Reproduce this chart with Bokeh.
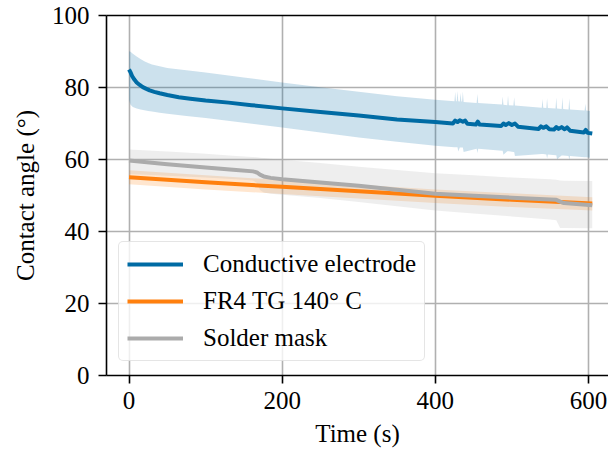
from bokeh.plotting import figure
from bokeh.models import Range1d, FixedTicker, LinearAxis, Legend
from bokeh.embed import file_html
from bokeh.resources import INLINE

# ---------------- data ----------------
x_ticks = [0, 200, 400, 600]
y_ticks = [0, 20, 40, 60, 80, 100]

# Conductive electrode (mean)
t_cond = [0, 2, 4, 7, 10, 14, 18, 22, 27, 33, 40, 50, 65, 80, 100, 130, 160, 200,
          250, 300, 350, 400, 423, 426, 429, 432, 436, 439, 442, 453, 455.5, 458,
          486, 489, 492, 496, 500, 504, 508, 535, 538, 541, 545, 549, 555, 558, 561,
          565, 569, 572, 576, 594, 596.5, 599, 605]
cond_mean = [85.0, 84.2, 83.2, 82.2, 81.4, 80.7, 80.1, 79.7, 79.2, 78.8, 78.4, 77.9,
             77.3, 76.9, 76.4, 75.8, 75.1, 74.2, 73.2, 72.2, 71.1, 70.4, 70.0, 70.8,
             70.4, 70.9, 70.5, 70.8, 69.9, 69.7, 70.5, 69.7, 69.3, 70.0, 69.6, 70.1,
             69.6, 70.0, 69.1, 68.5, 69.2, 68.8, 69.2, 68.4, 68.3, 69.0, 68.5, 69.0,
             68.4, 68.9, 68.0, 67.5, 68.2, 67.4, 67.2]

# Conductive electrode (spread band)
t_cond_band = [0, 2, 5, 10, 15, 20, 25, 30, 40, 50, 75, 100, 150, 200, 250, 300, 350,
               400, 425, 426, 427, 428, 429, 430, 432, 433, 434, 435, 436, 437, 454,
               455, 456, 487, 488, 489, 494, 495, 496, 502, 503, 504, 539, 540, 541,
               545, 546, 547, 557, 558, 559, 565, 566, 567, 574, 575, 576, 595, 596,
               597, 602]
cond_upper = [90.1, 89.9, 89.4, 88.6, 87.9, 87.3, 86.8, 86.4, 85.9, 85.4, 84.8, 84.2,
              82.8, 81.4, 80.1, 78.8, 77.6, 76.6, 76.2, 78.8, 76.2, 76.2, 79.0, 76.2,
              76.1, 78.5, 76.1, 76.1, 78.9, 76.0, 75.7, 78.2, 75.7, 75.3, 77.5, 75.2,
              75.1, 77.8, 75.1, 75.0, 77.3, 75.0, 74.4, 76.8, 74.4, 74.3, 77.0, 74.3,
              74.2, 77.2, 74.2, 74.0, 77.3, 74.0, 73.9, 77.0, 73.9, 73.6, 75.5, 73.6,
              73.5]
cond_lower = [76.5, 75.2, 74.6, 74.2, 73.9, 73.7, 73.5, 73.3, 73.0, 72.7, 72.1, 71.5,
              70.2, 68.9, 67.5, 66.1, 64.9, 63.8, 63.4, 63.4, 63.4, 63.4, 63.4, 62.2,
              63.3, 63.3, 63.3, 63.3, 63.3, 62.1, 63.0, 61.8, 63.0, 62.4, 62.4, 61.3,
              62.3, 62.3, 62.3, 62.1, 62.1, 61.0, 61.5, 61.5, 61.5, 61.4, 60.3, 61.4,
              61.2, 61.2, 60.1, 61.1, 61.1, 61.1, 61.0, 59.9, 61.0, 60.6, 60.6, 60.6,
              60.5]

# FR4 TG 140 C
t_fr4 = [0, 100, 200, 300, 400, 500, 605]
fr4_mean = [55.1, 53.7, 52.4, 51.2, 49.9, 48.8, 47.8]
fr4_upper = [57.0, 55.6, 54.3, 53.0, 51.7, 50.6, 49.5]
fr4_lower = [53.1, 51.7, 50.4, 49.2, 47.9, 46.8, 45.8]

# Solder mask
t_mask = [0, 50, 100, 140, 162, 167, 171, 176, 185, 200, 250, 300, 350, 400, 450,
          500, 550, 558, 563, 568, 605]
mask_mean = [59.7, 58.7, 57.8, 57.1, 56.7, 56.4, 55.8, 55.3, 54.9, 54.5, 53.6, 52.7,
             51.6, 50.5, 49.9, 49.4, 48.9, 48.8, 48.3, 47.9, 47.3]
mask_upper = [62.8, 62.2, 61.6, 61.0, 60.7, 60.6, 60.5, 60.4, 60.2, 59.9, 59.0, 58.0,
              57.1, 56.2, 55.6, 55.0, 54.5, 54.4, 54.2, 54.1, 54.0]
mask_lower = [56.0, 55.5, 55.0, 54.5, 54.2, 53.5, 51.5, 50.8, 50.5, 50.2, 49.3, 48.2,
              47.0, 45.8, 45.0, 44.2, 43.3, 43.1, 41.0, 41.0, 40.9]

labels = ["Conductive electrode", "FR4 TG 140° C", "Solder mask"]
colors = ["#006BA4", "#FF800E", "#ABABAB"]

FONT = "Liberation Serif"
FS = "25px"

# ---------------- figure ----------------
p = figure(width=608, height=452, output_backend="svg", toolbar_location=None,
           x_range=Range1d(-29.4, 626.2), y_range=Range1d(0, 100),
           min_border_left=106, min_border_right=0, min_border_top=15,
           min_border_bottom=77)
p.outline_line_color = None
p.background_fill_color = "white"

# bands
p.varea(x=t_cond_band, y1=cond_lower, y2=cond_upper, fill_color=colors[0], fill_alpha=0.2)
p.varea(x=t_fr4, y1=fr4_lower, y2=fr4_upper, fill_color=colors[1], fill_alpha=0.2)
p.varea(x=t_mask, y1=mask_lower, y2=mask_upper, fill_color=colors[2], fill_alpha=0.2)

# mean lines
p.line(t_cond, cond_mean, line_color=colors[0], line_width=4, line_join="round",
       legend_label=labels[0])
p.line(t_fr4, fr4_mean, line_color=colors[1], line_width=4, line_join="round",
       legend_label=labels[1])
p.line(t_mask, mask_mean, line_color=colors[2], line_width=4, line_join="round",
       legend_label=labels[2])

# axes
for ax in (p.xaxis[0], p.yaxis[0]):
    ax.major_label_text_font = FONT
    ax.major_label_text_font_size = FS
    ax.major_label_text_color = "black"
    ax.axis_line_color = "black"
    ax.axis_line_width = 1.6
    ax.major_tick_line_color = "black"
    ax.major_tick_line_width = 1.6
    ax.major_tick_out = 8
    ax.major_tick_in = 0
    ax.minor_tick_line_color = None
    ax.axis_label_text_font = FONT
    ax.axis_label_text_font_size = FS
    ax.axis_label_text_font_style = "normal"
    ax.axis_label_text_color = "black"
p.xaxis.ticker = FixedTicker(ticks=x_ticks)
p.yaxis.ticker = FixedTicker(ticks=y_ticks)
p.xaxis.major_label_standoff = 8
p.yaxis.major_label_standoff = 9

p.yaxis.axis_label = "Contact angle (°)"
p.yaxis.axis_label_standoff = 10
p.xaxis.axis_label = "Time (s)"
p.xaxis.axis_label_standoff = 8

# top spine
top = LinearAxis(ticker=FixedTicker(ticks=[]), axis_line_color="black",
                 axis_line_width=1.6, major_tick_line_color=None,
                 minor_tick_line_color=None, major_label_text_font_size="0px")
p.add_layout(top, "above")

# grid
p.xgrid.ticker = FixedTicker(ticks=x_ticks)
p.ygrid.ticker = FixedTicker(ticks=y_ticks)
for g in (p.xgrid[0], p.ygrid[0]):
    g.grid_line_color = "#b0b0b0"
    g.grid_line_width = 1.6

# legend
lg = p.legend[0]
lg.location = (12, 14)
lg.label_text_font = FONT
lg.label_text_font_size = FS
lg.label_text_color = "black"
lg.glyph_width = 56
lg.glyph_height = 24
lg.label_height = 24
lg.label_standoff = 20
lg.padding = 8
lg.spacing = 9
lg.margin = 0
lg.border_line_color = "#cccccc"
lg.border_line_width = 1.2
lg.background_fill_color = "white"
lg.background_fill_alpha = 0.8
if "border_radius" in Legend.properties():
    lg.border_radius = 5

open("out.html", "w").write(file_html(p, INLINE))
